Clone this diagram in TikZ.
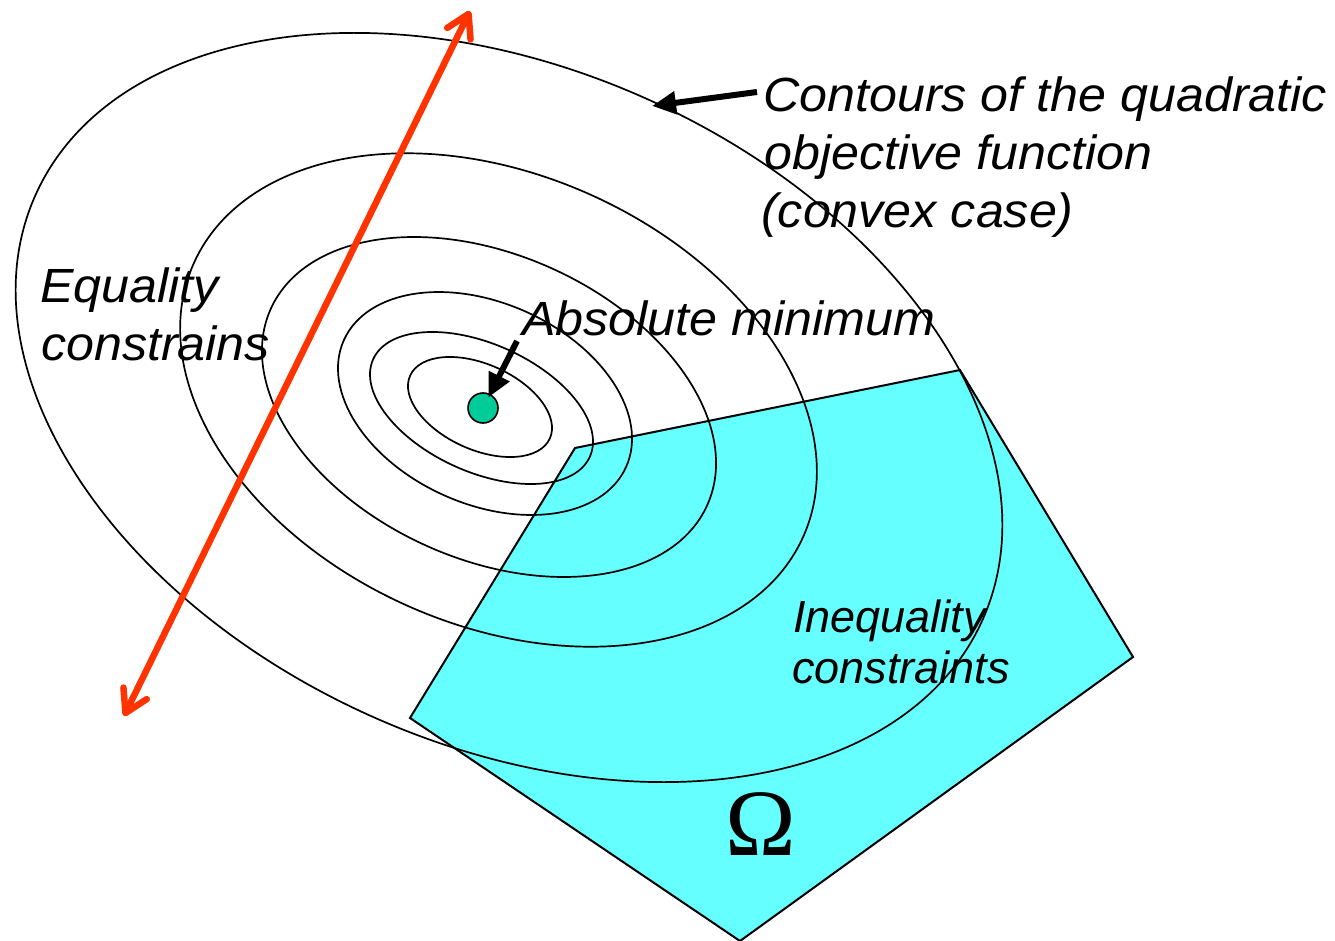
\documentclass[tikz,border=0pt]{standalone}
\usepackage{fontspec}
\setmainfont{Liberation Sans}
\newfontfamily\omegafont{Liberation Serif}
\usetikzlibrary{arrows.meta}
\definecolor{cyanfill}{HTML}{66FFFF}
\definecolor{dotgreen}{HTML}{00CC99}
\definecolor{redarrow}{HTML}{FF3300}
\newcommand\widetext[1]{\scalebox{1.046}[1]{#1}}
\begin{document}
\begin{tikzpicture}[x=1pt,y=-1pt,
  contour/.style={draw=black,line width=1.7pt},
  lbl/.style={anchor=base west,inner sep=0pt,font=\fontsize{48}{58}\selectfont\itshape},
  lblsmall/.style={anchor=base west,inner sep=0pt,font=\fontsize{45}{51}\selectfont\itshape},
  pointer/.style={draw=black,line width=6pt,-{Triangle[length=24pt,width=22pt]}},
  eqarrow/.style={draw=redarrow,line width=6.5pt,{Straight Barb[length=22pt,width=26pt,round]}-{Straight Barb[length=22pt,width=26pt,round]}}]
\useasboundingbox (0,0) rectangle (1335,941);
% feasible region
\filldraw[fill=cyanfill,draw=black,line width=2pt] (575,448) -- (960,370) -- (1133,657) -- (740,941) -- (410,718) -- cycle;
% contours
\draw[contour,rotate around={-24.2:(480,407)}] (480,407) ellipse [x radius=76.6, y radius=42.7];
\draw[contour,rotate around={-24.2:(481.5,408)}] (481.5,408) ellipse [x radius=118.8, y radius=64];
\draw[contour,rotate around={-24.2:(485,403.5)}] (485,403.5) ellipse [x radius=154.7, y radius=100.5];
\draw[contour,rotate around={-24.2:(489,407)}] (489,407) ellipse [x radius=239.3, y radius=152.2];
\draw[contour,rotate around={-24.2:(498.5,400)}] (498.5,400) ellipse [x radius=334, y radius=225];
\draw[contour,rotate around={-24.2:(509,407.5)}] (509,407.5) ellipse [x radius=519, y radius=338];
% minimum
\node[circle,fill=dotgreen,draw=black,line width=1.6pt,minimum size=30pt,inner sep=0pt] (mini) at (483,408) {};
% labels
\node[lbl] (cont1) at (763,112) {\widetext{Contours of the quadratic}};
\node[lbl] (cont2) at (764,170) {\widetext{objective function}};
\node[lbl] (cont3) at (761,228) {\widetext{(convex case)}};
\node[lbl] (eq1) at (40,302) {\widetext{Equality}};
\node[lbl] (eq2) at (41,360) {\widetext{constrains}};
\node[lbl] (absmin) at (522,335) {\widetext{Absolute minimum}};
\node[lblsmall] (ineq1) at (793,632) {Inequality};
\node[lblsmall] (ineq2) at (792,683) {constraints};
\node[anchor=base,inner sep=0pt,font=\fontsize{95}{97}\selectfont\omegafont] (omega) at (761,855) {Ω};
% pointers
\coordinate (cstart) at (757,92);
\coordinate (ctip) at (652,106);
\draw[pointer] (cstart) -- (ctip);
\coordinate (astart) at (517,341);
\draw[pointer,shorten >=-4pt] (astart) -- (mini);
% equality constraint line
\coordinate (eqa) at (124,716);
\coordinate (eqb) at (470,11);
\draw[eqarrow] (eqa) -- (eqb);
\end{tikzpicture}
\end{document}
